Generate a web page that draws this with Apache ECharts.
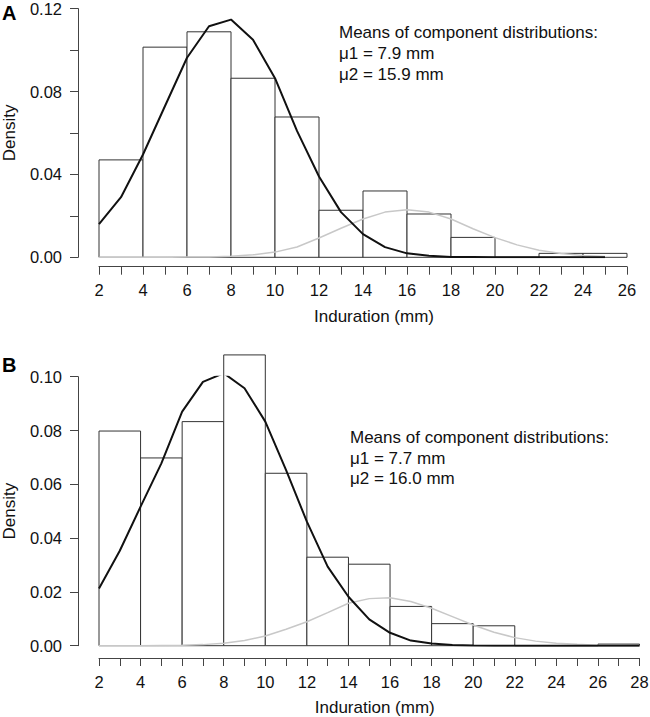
<!DOCTYPE html>
<html><head><meta charset="utf-8">
<script src="https://cdn.jsdelivr.net/npm/echarts@6/dist/echarts.min.js"></script>
<style>html,body{margin:0;padding:0;background:#fff}#c{width:650px;height:717px}</style>
</head><body><div id="c"></div>
<script>
// ---------- Panel A data ----------
const binEdgesA = [2,4,6,8,10,12,14,16,18,20,22,24,26];
const densityA  = [0.047,0.1014,0.1088,0.0864,0.0677,0.0227,0.032,0.0209,0.0096,0,0.0019,0.0019];
const curveXA   = [2,3,4,5,6,7,8,9,10,11,12,13,14,15,16,17,18,19,20,21,22,23,24,25];
const comp1A    = [0.016,0.029,0.0496,0.073,0.0963,0.1115,0.1147,0.105,0.0864,0.061,0.039,0.0218,0.0112,0.0049,0.0019,0.0007,0.0002,0.0001,0,0,0,0,0,0];
const comp2A    = [0,0,0,0,0.0001,0.0002,0.0005,0.0012,0.0025,0.005,0.0093,0.014,0.0185,0.0218,0.0229,0.0218,0.0185,0.0138,0.0095,0.006,0.0034,0.0018,0.0009,0.0004];
const xTickLabelsA = ['2','4','6','8','10','12','14','16','18','20','22','24','26'];
const yTickLabelsA = ['0.00','0.04','0.08','0.12'];
const noteA = ['Means of component distributions:','\u03bc1 = 7.9 mm','\u03bc2 = 15.9 mm'];

// ---------- Panel B data ----------
const binEdgesB = [2,4,6,8,10,12,14,16,18,20,22,24,26,28];
const densityB  = [0.0798,0.0698,0.0833,0.1081,0.0641,0.0329,0.0303,0.0146,0.0082,0.0074,0,0,0.0006];
const curveXB   = [2,3,4,5,6,7,8,9,10,11,12,13,14,15,16,17,18,19,20,21,22,23,24,25,26,27,28];
const comp1B    = [0.0213,0.0353,0.0517,0.0678,0.087,0.0981,0.1013,0.0957,0.0833,0.0653,0.0461,0.0294,0.0182,0.0098,0.0048,0.0019,0.0008,0.0003,0.0001,0,0,0,0,0,0,0,0];
const comp2B    = [0,0,0,0.0001,0.0002,0.0004,0.0009,0.0019,0.0036,0.0061,0.0089,0.0123,0.0158,0.0175,0.0178,0.0164,0.0139,0.0108,0.0077,0.005,0.003,0.0017,0.0009,0.0005,0.0002,0.0001,0];
const xTickLabelsB = ['2','4','6','8','10','12','14','16','18','20','22','24','26','28'];
const yTickLabelsB = ['0.00','0.02','0.04','0.06','0.08','0.10'];
const noteB = ['Means of component distributions:','\u03bc1 = 7.7 mm','\u03bc2 = 16.0 mm'];

const xTitle = 'Induration (mm)';
const yTitle = 'Density';

// ---------- styling ----------
const FONT = 'Liberation Sans, Arial, Helvetica, sans-serif';
const TXT = '#111';
const AX = '#444';

function histData(edges, dens) {
  return dens.map((d, i) => [edges[i], edges[i + 1], d]);
}
function pairs(xs, ys) { return xs.map((x, i) => [x, ys[i]]); }

function renderHist(params, api) {
  const x0 = api.value(0), x1 = api.value(1), y = api.value(2);
  const p0 = api.coord([x0, y]);
  const p1 = api.coord([x1, 0]);
  return {
    type: 'rect',
    shape: { x: p0[0], y: p0[1], width: p1[0] - p0[0], height: p1[1] - p0[1] },
    style: { fill: '#fff', stroke: '#333', lineWidth: 1 }
  };
}

function xAxisCfg(grid, min, max, labels, offset, shift) {
  return {
    gridIndex: grid, type: 'value', min: min, max: max, interval: 1, offset: offset,
    axisLine: { show: true, onZero: false, lineStyle: { color: AX, width: 1 } },
    axisTick: { show: true, length: 8, lineStyle: { color: AX, width: 1 } },
    axisLabel: { margin: 15, color: TXT, fontSize: 16.5, fontFamily: FONT, hideOverlap: false,
      formatter: v => labels.includes(String(v)) ? String(v) : '' },
    splitLine: { show: false },
    name: xTitle, nameLocation: 'middle', nameGap: 41, nameMoveOverlap: false,
    nameTextStyle: { color: TXT, fontSize: 17, fontFamily: FONT, padding: [0, 0, 0, shift] }
  };
}
function yAxisCfg(grid, max, interval, labels) {
  return {
    gridIndex: grid, type: 'value', min: 0, max: max, interval: interval, offset: 21,
    axisLine: { show: true, onZero: false, lineStyle: { color: AX, width: 1 } },
    axisTick: { show: true, length: 8, lineStyle: { color: AX, width: 1 } },
    axisLabel: { margin: 16, color: TXT, fontSize: 16.5, lineHeight: 14, fontFamily: FONT, hideOverlap: false,
      formatter: v => { const s = v.toFixed(2); return labels.includes(s) ? s : ''; } },
    splitLine: { show: false },
    name: yTitle, nameLocation: 'middle', nameGap: 60, nameRotate: 90, nameMoveOverlap: false,
    nameTextStyle: { color: TXT, fontSize: 17, fontFamily: FONT }
  };
}
function lineSeries(xi, data, color, width, z) {
  return { type: 'line', xAxisIndex: xi, yAxisIndex: xi, data: data, symbol: 'none', showSymbol: false,
    lineStyle: { color: color, width: width }, z: z, silent: true };
}

const chart = echarts.init(document.getElementById('c'), null, { renderer: 'svg' });
chart.setOption({
  animation: false,
  backgroundColor: '#fff',
  grid: [
    { left: 99, right: 23, top: 8.6, bottom: 459.7, containLabel: false, outerBoundsMode: 'none' },
    { left: 99, right: 10.5, top: 376.7, bottom: 71.3, containLabel: false, outerBoundsMode: 'none' }
  ],
  xAxis: [
    xAxisCfg(0, 2, 26, xTickLabelsA, 9.4, 22),
    xAxisCfg(1, 2, 28, xTickLabelsB, 12.3, 11)
  ],
  yAxis: [
    yAxisCfg(0, 0.12, 0.02, yTickLabelsA),
    yAxisCfg(1, 0.10, 0.02, yTickLabelsB)
  ],
  series: [
    { type: 'custom', xAxisIndex: 0, yAxisIndex: 0, renderItem: renderHist, clip: false,
      data: histData(binEdgesA, densityA), encode: { x: [0, 1], y: 2 }, z: 1 },
    lineSeries(0, pairs(curveXA, comp2A), '#c8c8c8', 1.5, 2),
    lineSeries(0, pairs(curveXA, comp1A), '#111', 2, 3),
    { type: 'custom', xAxisIndex: 1, yAxisIndex: 1, renderItem: renderHist, clip: false,
      data: histData(binEdgesB, densityB), encode: { x: [0, 1], y: 2 }, z: 1 },
    lineSeries(1, pairs(curveXB, comp2B), '#c8c8c8', 1.5, 2),
    lineSeries(1, pairs(curveXB, comp1B), '#111', 2, 3)
  ],
  graphic: [
    { type: 'text', left: 2, top: 3, style: { text: 'A', fontSize: 20, fontWeight: 'bold', fontFamily: FONT, fill: '#000' } },
    { type: 'text', left: 2, top: 355, style: { text: 'B', fontSize: 20, fontWeight: 'bold', fontFamily: FONT, fill: '#000' } },
    { type: 'text', left: 339, top: 22, style: { text: noteA.join('\n'), fontSize: 17, lineHeight: 21, fontFamily: FONT, fill: TXT } },
    { type: 'text', left: 350, top: 427.5, style: { text: noteB.join('\n'), fontSize: 17, lineHeight: 20.5, fontFamily: FONT, fill: TXT } }
  ]
});
</script>
</body></html>
